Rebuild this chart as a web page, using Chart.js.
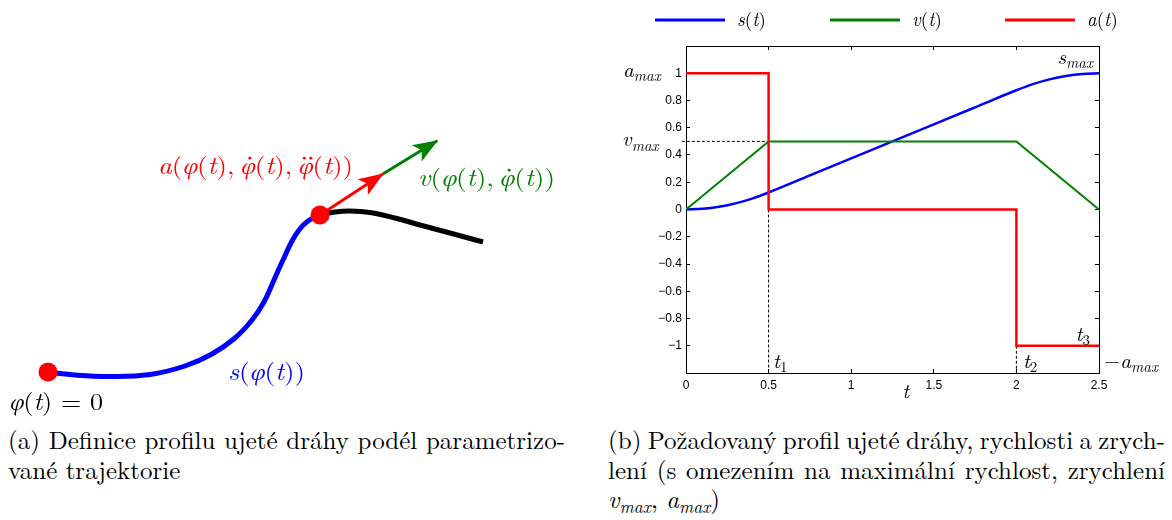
<!DOCTYPE html>
<html>
<head>
<meta charset="utf-8">
<script src="https://cdn.jsdelivr.net/npm/chart.js@4.4.1/dist/chart.umd.min.js"></script>
<style>
  html, body { margin: 0; padding: 0; background: #fff; }
  #page { position: relative; width: 1172px; height: 520px; overflow: hidden; background: #fff; }
  .panel { position: absolute; top: 0; height: 420px; }
  #left { left: 0; width: 560px; }
  #right { left: 560px; width: 612px; }
  .caption { position: absolute; top: 424px; width: 557px;
             font-family: "Latin Modern Roman", "Libertinus Serif", "Liberation Serif", serif;
             font-size: 25px; line-height: 29.5px; color: #000; }
  .caption .just { text-align: justify; text-align-last: justify; }
  .caption sub { font-size: 70%; vertical-align: -0.3em; line-height: 0; }
  #capA { left: 8px; }
  #capB { left: 608px; }
</style>
</head>
<body>
<div id="page">
  <div class="panel" id="left"><canvas id="diagram"></canvas></div>
  <div class="panel" id="right"><canvas id="profile"></canvas></div>
  <div class="caption" id="capA">
    <div class="just">(a) Definice profilu ujeté dráhy podél parametrizo-</div>
    <div>vané trajektorie</div>
  </div>
  <div class="caption" id="capB">
    <div class="just">(b) Požadovaný profil ujeté dráhy, rychlosti a zrych-</div>
    <div class="just">lení (s omezením na maximální rychlost, zrychlení</div>
    <div><i>v</i><sub><i>max</i></sub>, <i>a</i><sub><i>max</i></sub>)</div>
  </div>
</div>
<script>
// ---- panel (b): motion profile ----
const sTime   = [0, 0.1, 0.2, 0.3, 0.4, 0.5, 0.75, 1, 1.25, 1.5, 1.75, 2, 2.1, 2.2, 2.3, 2.4, 2.5];
const sValues = [0, 0.005, 0.02, 0.045, 0.08, 0.125, 0.25, 0.375, 0.5, 0.625, 0.75, 0.875, 0.92, 0.955, 0.98, 0.995, 1];
const vTime   = [0, 0.5, 2, 2.5];
const vValues = [0, 0.5, 0.5, 0];
const aTime   = [0, 0.5, 0.5, 2, 2, 2.5];
const aValues = [1, 1, 0, 0, -1, -1];
const tTicks  = [0, 0.5, 1, 1.5, 2, 2.5];
const yTicks  = [-1, -0.8, -0.6, -0.4, -0.2, 0, 0.2, 0.4, 0.6, 0.8, 1];
const seriesNames = ['s(t)', 'v(t)', 'a(t)'];

// ---- panel (a): trajectory sketch ----
const pathX = [12, 18.75, 27.5, 37.5, 46.25, 53, 58.75, 63, 66, 68.5, 70.75, 72.75, 74.75, 77, 80];
const pathY = [12, 11.25, 10.875, 11.375, 13.5, 16.5, 20.5, 25, 29.5, 35, 40, 44.25, 47.5, 49.75, 51.25];
const trajX = [80, 83.75, 87.5, 92.5, 98.75, 105, 112.5, 120.75];
const trajY = [51.25, 52, 52.25, 51.875, 50.5, 48.75, 46.75, 44.5];
const markX = [12, 80];
const markY = [12, 51.25];
const accX  = [80, 95.7];
const accY  = [51.25, 61.5];
const velX  = [95.7, 109.3];
const velY  = [61.5, 69.8];

const SERIF = '"Latin Modern Roman", "Libertinus Serif", "Liberation Serif", serif';
const SANS = '"Liberation Sans", Arial, sans-serif';
const pts = (xs, ys) => xs.map((x, i) => ({x: x, y: ys[i]}));

// split a small math string: letters italic, _{..} subscript, combining dots kept as accent count
function mathParts(str) {
    let parts = [], i = 0;
    while (i < str.length) {
        const ch = str[i];
        if (ch === '_' && str[i + 1] === '{') {
            const end = str.indexOf('}', i);
            const t = str.slice(i + 2, end);
            parts.push({text: t, sub: true, italic: /[A-Za-z]/.test(t), dots: 0});
            i = end + 1;
            continue;
        }
        i++;
        let dots = 0;
        if (str[i] === '\u0307') { dots = 1; i++; }
        else if (str[i] === '\u0308') { dots = 2; i++; }
        parts.push({text: ch, sub: false, italic: /[A-Za-z\u03b1-\u03c9]/.test(ch), dots: dots});
    }
    return parts;
}

function drawMath(ctx, str, x, y, o) {
    const size = o.size, subSize = o.subSize || Math.round(size * 0.7);
    const parts = mathParts(str);
    let total = 0;
    for (const p of parts) {
        p.font = (p.italic ? 'italic ' : '') + (p.sub ? subSize : size) + 'px ' + SERIF;
        ctx.font = p.font;
        p.w = ctx.measureText(p.text).width;
        total += p.w;
    }
    const k = o.width ? o.width / total : 1;
    let x0 = x;
    if (o.align === 'right') x0 = x - total * k;
    else if (o.align === 'center') x0 = x - total * k / 2;
    ctx.save();
    ctx.fillStyle = o.color || '#000';
    ctx.textAlign = 'left';
    ctx.textBaseline = 'alphabetic';
    ctx.translate(x0, y);
    ctx.scale(k, 1);
    let cx = 0;
    for (const p of parts) {
        ctx.font = p.font;
        ctx.fillText(p.text, cx, p.sub ? size * 0.2 : 0);
        if (p.dots) {
            const mid = cx + p.w / 2 + size * 0.09, r = size * 0.055;
            const offs = p.dots === 1 ? [0] : [-size * 0.12, size * 0.12];
            for (const d of offs) {
                ctx.beginPath();
                ctx.arc(mid + d, -size * 0.66, r, 0, Math.PI * 2);
                ctx.fill();
            }
        }
        cx += p.w;
    }
    ctx.restore();
}

// labels of panel (b), anchored to data coordinates
const profileNotes = [
    {text: 'a_{max}',  t: 0,    v: 1,    dx: -63,  dy: 4},
    {text: 'v_{max}',  t: 0,    v: 0.5,  dx: -64,  dy: 5},
    {text: 's_{max}',  t: 2.5,  v: 1,    dx: -6,   dy: -9, align: 'right'},
    {text: 't_{1}',    t: 0.5,  v: -1.2, dx: 4.5,  dy: -5},
    {text: 't_{2}',    t: 2,    v: -1.2, dx: 6.5,  dy: -5},
    {text: 't_{3}',    t: 2.5,  v: -1,   dx: -9,   dy: -5, align: 'right'},
    {text: '\u2212a_{max}', t: 2.5, v: -1.2, dx: 5, dy: -5},
    {text: 't',        t: 1.33, v: -1.2, dx: 0,    dy: 25, align: 'center'}
];

const profileText = {
    id: 'profileText',
    afterDraw(chart) {
        const {ctx, scales: {x, y}} = chart;
        for (const n of profileNotes) {
            drawMath(ctx, n.text, x.getPixelForValue(n.t) + n.dx, y.getPixelForValue(n.v) + n.dy,
                {size: 21, subSize: 15, align: n.align});
        }
        // legend: line sample + label for each series
        chart.data.datasets.forEach((ds, i) => {
            if (!ds.label) return;
            const lx = 95 + 175 * i, ly = 20;
            ctx.save();
            ctx.strokeStyle = ds.borderColor;
            ctx.lineWidth = 3;
            ctx.beginPath();
            ctx.moveTo(lx, ly);
            ctx.lineTo(lx + 70, ly);
            ctx.stroke();
            ctx.restore();
            drawMath(ctx, ds.label, lx + 82, ly + 6, {size: 19});
        });
    }
};

function axisOpts(pos, min, max, ticks, size, showLabels) {
    return {
        type: 'linear', position: pos, min: min, max: max,
        afterBuildTicks: s => { s.ticks = ticks.map(v => ({value: v})); },
        afterFit: s => { if (pos === 'top' || pos === 'bottom') s.height = size; else s.width = size; },
        grid: {drawOnChartArea: false, drawTicks: true, tickLength: -4, color: '#000'},
        border: {display: true, color: '#000', width: 1},
        ticks: {
            display: showLabels, autoSkip: false, maxRotation: 0, color: '#000',
            padding: (pos === 'bottom') ? 9 : 8,
            font: {family: SANS, size: 12},
            callback: v => {
                const r = Math.round(v * 10) / 10;
                return (r < 0 ? '\u2212' : '') + Math.abs(r);
            }
        }
    };
}

new Chart(document.getElementById('profile'), {
    type: 'scatter',
    data: {
        datasets: [
            {label: seriesNames[0], data: pts(sTime, sValues), showLine: true, borderColor: '#0000ff',
             borderWidth: 2.5, cubicInterpolationMode: 'monotone', order: 3},
            {label: seriesNames[1], data: pts(vTime, vValues), showLine: true, borderColor: '#008000',
             borderWidth: 2, order: 2},
            {label: seriesNames[2], data: pts(aTime, aValues), showLine: true, borderColor: '#ff0000',
             borderWidth: 2.5, order: 1},
            {label: '', data: [{x: -0.025, y: vValues[1]}, {x: vTime[1], y: vValues[1]}], showLine: true,
             borderColor: '#000', borderWidth: 1, borderDash: [3, 2], clip: false, order: 4},
            {label: '', data: [{x: aTime[1], y: 0}, {x: aTime[1], y: -1.2}], showLine: true,
             borderColor: '#000', borderWidth: 1, borderDash: [3, 2], order: 4},
            {label: '', data: [{x: aTime[3], y: -1}, {x: aTime[3], y: -1.2}], showLine: true,
             borderColor: '#000', borderWidth: 1, borderDash: [3, 2], order: 4}
        ]
    },
    options: {
        responsive: true, maintainAspectRatio: false, animation: false, events: [],
        devicePixelRatio: 1,
        layout: {padding: 0, autoPadding: false},
        elements: {point: {radius: 0}},
        plugins: {legend: {display: false}, tooltip: {enabled: false}},
        scales: {
            x: axisOpts('bottom', 0, 2.5, tTicks, 47, true),
            x2: axisOpts('top', 0, 2.5, tTicks, 46, false),
            y: axisOpts('left', -1.2, 1.2, yTicks, 126, true),
            y2: axisOpts('right', -1.2, 1.2, yTicks, 73, false)
        }
    },
    plugins: [profileText]
});

// ---- panel (a) ----
const diagramNotes = [
    {text: 'a(\u03c6(t),\u2009\u03c6\u0307(t),\u2009\u03c6\u0308(t))', x: 39.5, y: 61.5, width: 195, color: '#ff0000'},
    {text: 'v(\u03c6(t),\u2009\u03c6\u0307(t))', x: 104.5, y: 58.5, width: 137, color: '#008000'},
    {text: 's(\u03c6(t))', x: 57, y: 10.125, width: 77, color: '#0000ff'},
    {text: '\u03c6(t)\u2004=\u20040', x: 2.25, y: 2.5, width: 94, color: '#000'}
];

const diagramExtras = {
    id: 'diagramExtras',
    afterDatasetsDraw(chart) {
        const ctx = chart.ctx;
        chart.data.datasets.forEach((ds, i) => {
            if (!ds.arrow) return;
            const p = chart.getDatasetMeta(i).data;
            const a = p[p.length - 2], b = p[p.length - 1];
            const ang = Math.atan2(b.y - a.y, b.x - a.x);
            ctx.save();
            ctx.translate(b.x, b.y);
            ctx.rotate(ang);
            ctx.beginPath();
            ctx.moveTo(1, 0);
            ctx.lineTo(-24, -9.5);
            ctx.lineTo(-18, 0);
            ctx.lineTo(-24, 9.5);
            ctx.closePath();
            ctx.fillStyle = ds.borderColor;
            ctx.fill();
            ctx.restore();
        });
    },
    afterDraw(chart) {
        const {ctx, scales: {x, y}} = chart;
        for (const n of diagramNotes) {
            drawMath(ctx, n.text, x.getPixelForValue(n.x), y.getPixelForValue(n.y),
                {size: 24, width: n.width, color: n.color});
        }
    }
};

new Chart(document.getElementById('diagram'), {
    type: 'scatter',
    data: {
        datasets: [
            {data: pts(markX, markY), pointRadius: 9.5, backgroundColor: '#ff0000', borderWidth: 0, order: 0},
            {data: pts(accX, accY), showLine: true, borderColor: '#ff0000', borderWidth: 3, arrow: true, order: 1},
            {data: pts(velX, velY), showLine: true, borderColor: '#008000', borderWidth: 3, arrow: true, order: 2},
            {data: pts(trajX, trajY), showLine: true, borderColor: '#000', borderWidth: 5, tension: 0.4, order: 3},
            {data: pts(pathX, pathY), showLine: true, borderColor: '#0000ff', borderWidth: 5, tension: 0.4, order: 4}
        ]
    },
    options: {
        responsive: true, maintainAspectRatio: false, animation: false, events: [],
        devicePixelRatio: 1,
        layout: {padding: 0, autoPadding: false},
        elements: {point: {radius: 0}},
        plugins: {legend: {display: false}, tooltip: {enabled: false}},
        scales: {
            x: {type: 'linear', min: 0, max: 140, display: false},
            y: {type: 'linear', min: 0, max: 105, display: false}
        }
    },
    plugins: [diagramExtras]
});

// tighten word spacing on justified caption lines that would not fit the column
(function fitCaptions() {
    const ctx = document.createElement('canvas').getContext('2d');
    ctx.font = '25px ' + SERIF;
    document.querySelectorAll('.caption .just').forEach(l => {
        const txt = l.textContent.trim();
        const w = ctx.measureText(txt).width;
        const gaps = txt.split(' ').length - 1;
        if (w > 550) l.style.wordSpacing = ((550 - w) / gaps).toFixed(2) + 'px';
    });
})();
</script>
</body>
</html>
